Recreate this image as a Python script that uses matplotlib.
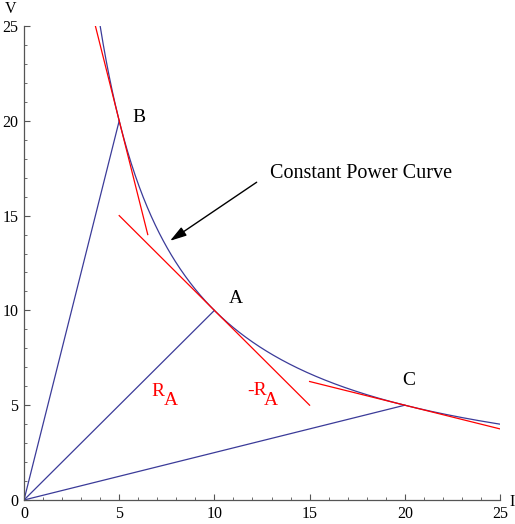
import numpy as np
import matplotlib
matplotlib.use("Agg")
import matplotlib.pyplot as plt

plt.rcParams['font.family'] = ['Liberation Serif', 'DejaVu Serif']

power = 100.0
curve_I = np.linspace(4, 25, 400)
points_I = [5, 10, 20]
points_V = [20, 10, 5]
# tangent segments: (I_start, I_end) and (V_start, V_end)
tangent_I = [(3.75, 6.5), (5, 15), (15, 25)]
tangent_V = [(25, 14), (15, 5), (6.25, 3.75)]
ticks = [0, 5, 10, 15, 20, 25]

blue = '#3b3b99'
red = '#ff0000'

fig = plt.figure(figsize=(5.15, 5.24), dpi=100)
ax = fig.add_axes([24/515, 24/524, 476/515, 474/524])
ax.set_xlim(0, 25)
ax.set_ylim(0, 25)

ax.plot(curve_I, power / curve_I, color=blue, lw=0.9)
for i, v in zip(points_I, points_V):
    ax.plot([0, i], [0, v], color=blue, lw=0.9)
for ti, tv in zip(tangent_I, tangent_V):
    ax.plot(ti, tv, color=red, lw=0.9)

ax.text(5.7, 20.2, "B", fontsize=14, va='center', ha='left')
ax.text(10.75, 10.65, "A", fontsize=14, va='center', ha='left')
ax.text(19.85, 6.3, "C", fontsize=14, va='center', ha='left')
# R_A labels with large subscripts
ax.text(6.7, 5.72, "R", fontsize=14, color=red, va='center', ha='left')
ax.text(7.35, 5.23, "A", fontsize=14, color=red, va='center', ha='left')
ax.text(11.72, 5.75, "-R", fontsize=14, color=red, va='center', ha='left')
ax.text(12.62, 5.25, "A", fontsize=14, color=red, va='center', ha='left')
ax.text(12.9, 17.2, "Constant Power Curve", fontsize=14.5, va='center', ha='left')
ax.annotate("", xy=(7.67, 13.67), xytext=(12.22, 16.76),
            arrowprops=dict(arrowstyle='-|>,head_length=1.0,head_width=0.3', color='black', lw=1.0,
                            shrinkA=0, shrinkB=0))

for s in ['top', 'right']:
    ax.spines[s].set_visible(False)
for s in ['left', 'bottom']:
    ax.spines[s].set_color('#555555')
    ax.spines[s].set_linewidth(0.9)

ax.set_xticks(ticks)
ax.set_yticks(ticks)
ax.set_xticks(np.arange(0, 26, 1), minor=True)
ax.set_yticks(np.arange(0, 26, 1), minor=True)
ax.tick_params(which='major', direction='in', length=4.5, width=0.8, color='#555555', labelsize=11.5, pad=4)
ax.tick_params(which='minor', direction='in', length=2.5, width=0.6, color='#555555')

fig.text(509/515, 1 - 502/524, "I", fontsize=11.5, ha='left', va='center')
fig.text(5/515, 1 - 9/524, "V", fontsize=11.5, ha='left', va='center')

fig.savefig("out.png", dpi=100)
